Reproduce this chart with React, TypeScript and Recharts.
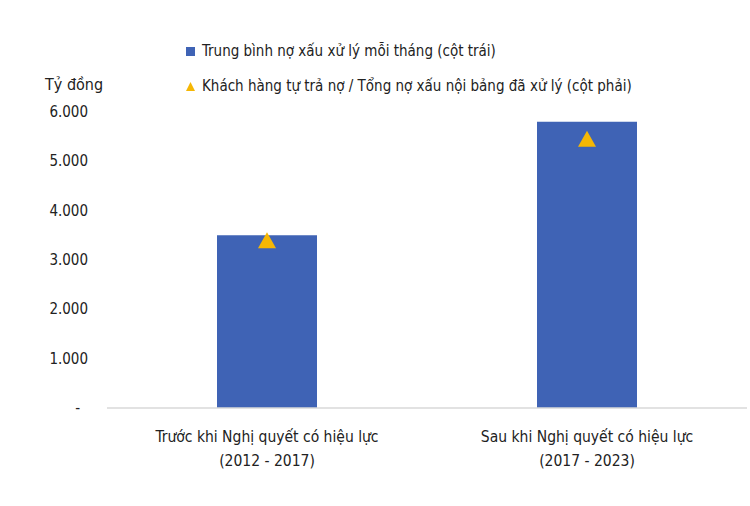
import { ComposedChart, Bar, Scatter, XAxis, YAxis } from 'recharts';

const categories = ['Trước khi Nghị quyết có hiệu lực', 'Sau khi Nghị quyết có hiệu lực'];
const periods = ['(2012 - 2017)', '(2017 - 2023)'];
const monthlyBadDebt = [3500, 5800];
const selfRepayRatio = [33.9, 54.5];
const leftTicks = [0, 1000, 2000, 3000, 4000, 5000, 6000];

const data = categories.map((c, i) => ({
  name: c,
  period: periods[i],
  debt: monthlyBadDebt[i],
  ratio: selfRepayRatio[i],
}));

const FONT = "'Liberation Sans Narrow', 'DejaVu Sans Condensed', 'Roboto', sans-serif";
const BLUE = '#3f63b5';
const GOLD = '#f5b705';

const fmt = (v: number) => (v === 0 ? '-' : v.toLocaleString('de-DE'));

function XTick({ x, y, payload }: any) {
  const row = data.find((d) => d.name === payload.value);
  return (
    <g>
      <text x={x} y={y + 26} textAnchor="middle" fontSize={15.5} fill="#222" fontFamily={FONT}>{payload.value}</text>
      <text x={x} y={y + 50} textAnchor="middle" fontSize={15.5} fill="#222" fontFamily={FONT}>{row?.period}</text>
    </g>
  );
}

function YTick({ x, y, payload }: any) {
  return (
    <text x={payload.value === 0 ? x - 8 : x} y={y + 5} textAnchor="end" fontSize={15} fill="#222" fontFamily={FONT}>
      {fmt(payload.value)}
    </text>
  );
}

function Triangle({ cx, cy }: any) {
  return <polygon points={`${cx},${cy - 8.5} ${cx + 9},${cy + 7.5} ${cx - 9},${cy + 7.5}`} fill={GOLD} />;
}

function TopLegend() {
  return (
    <div style={{ position: 'absolute', left: 0, top: 0, width: 750, height: 100, fontFamily: FONT, color: '#222', fontSize: 15, pointerEvents: 'none' }}>
      <div style={{ position: 'absolute', left: 186, top: 42, display: 'flex', alignItems: 'center', whiteSpace: 'nowrap' }}>
        <span style={{ width: 9, height: 9, background: BLUE, display: 'inline-block', marginRight: 7 }} />
        Trung bình nợ xấu xử lý mỗi tháng (cột trái)
      </div>
      <div style={{ position: 'absolute', left: 45, top: 75, whiteSpace: 'nowrap', fontSize: 16 }}>Tỷ đồng</div>
      <div style={{ position: 'absolute', left: 186, top: 77, display: 'flex', alignItems: 'center', whiteSpace: 'nowrap' }}>
        <svg width={9} height={9} style={{ marginRight: 7 }}>
          <polygon points="4.5,0 9,9 0,9" fill={GOLD} />
        </svg>
        Khách hàng tự trả nợ / Tổng nợ xấu nội bảng đã xử lý (cột phải)
      </div>
    </div>
  );
}

export default function App() {
  return (
    <div style={{ position: 'absolute', left: 0, top: 0, width: 750, height: 506, background: '#fff' }}>
      <ComposedChart width={750} height={506} data={data} margin={{ top: 112, right: 3, left: 0, bottom: 0 }} barCategoryGap={110}>
        <XAxis
          dataKey="name"
          height={98}
          tick={<XTick />}
          tickLine={false}
          axisLine={{ stroke: '#d9d9d9', strokeWidth: 1.5 }}
          interval={0}
        />
        <YAxis
          yAxisId="left"
          width={107}
          domain={[0, 6000]}
          ticks={leftTicks}
          tick={<YTick />}
          tickSize={0}
          tickMargin={19}
          axisLine={false}
          tickLine={false}
        />
        <YAxis yAxisId="right" orientation="right" hide domain={[0, 60]} width={0} />
        <Bar yAxisId="left" dataKey="debt" fill={BLUE} isAnimationActive={false} />
        <Scatter yAxisId="right" dataKey="ratio" shape={<Triangle />} isAnimationActive={false} />
      </ComposedChart>
      <TopLegend />
    </div>
  );
}
